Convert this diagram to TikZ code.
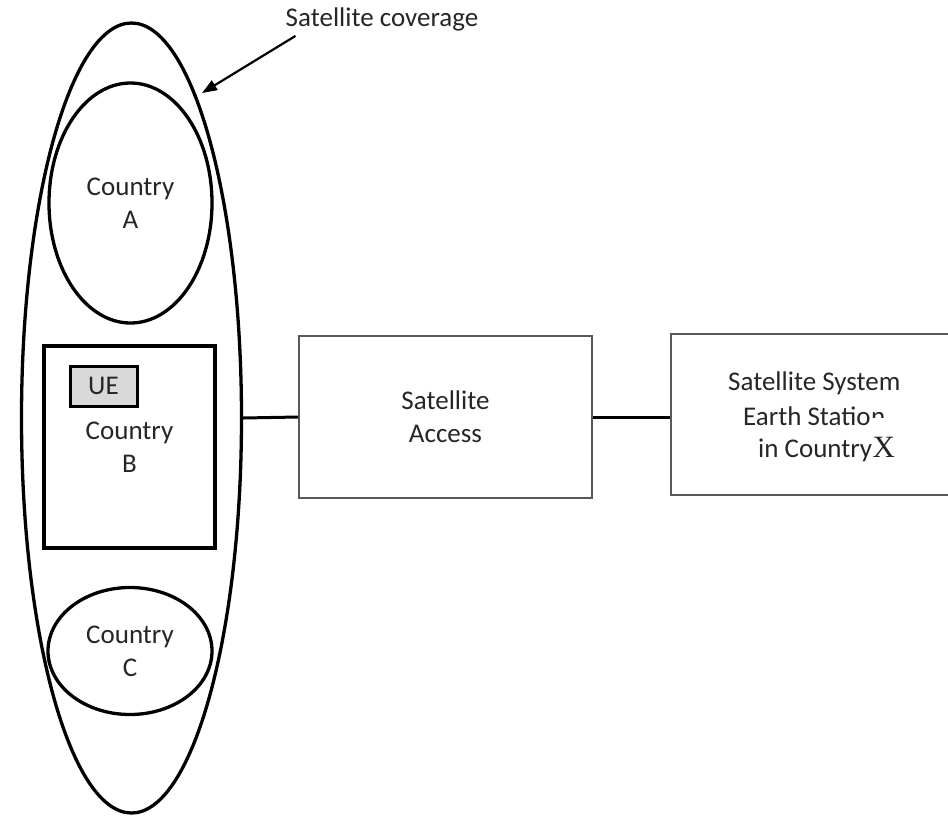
\documentclass[tikz,border=0pt]{standalone}
\usepackage{fontspec}
\setmainfont{Carlito}
\newfontfamily\serifx{Liberation Serif}
\usetikzlibrary{shapes.geometric,arrows.meta,calc}
\begin{document}
\begin{tikzpicture}[x=1pt,y=-1pt,
  lbl/.style={font=\fontsize{27}{33}\selectfont, text=black!85, align=center},
  region/.style={draw=black, line width=3.3pt, ellipse, inner sep=0pt, lbl},
  thickbox/.style={draw=black, line width=3.3pt, rectangle, inner sep=0pt, lbl},
  thinbox/.style={draw=black!65, line width=1.8pt, rectangle, inner sep=0pt, lbl},
  link/.style={draw=black, line width=3.0pt},
  plain/.style={font=\fontsize{27}{33}\selectfont, text=black!85, inner sep=0pt}
]
\clip (0,0) rectangle (948,815);
\fill[white] (0,0) rectangle (948,815);

% coverage footprint and the countries inside it
\node[region, minimum width=220, minimum height=790] (coverage) at (131.5,418) {};
\node[region, minimum width=163, minimum height=240] (ctryA) at (130.5,203) {Country\\A};
\node[thickbox, minimum width=171, minimum height=202] (ctryB) at (129.5,447) {Country\\B};
\node[region, minimum width=164, minimum height=127] (ctryC) at (130,651) {Country\\C};
\node[thickbox, fill=black!15, line width=3pt, minimum width=67, minimum height=40] (ue) at (103.5,386) {UE};

% ground segment
\node[thinbox, minimum width=293, minimum height=162] (access) at (445.5,417) {Satellite\\Access};
\node[thinbox, minimum width=320, minimum height=161, anchor=west] (earth) at (670,414.5) {};
\node[plain, anchor=base west] (es1) at (728,390) {Satellite System};
\node[plain, anchor=base west] (es2) at (743,425) {Earth Statio};
\begin{scope}
  \clip ($(es2.base east)+(0,-7.5)$) rectangle ($(es2.base east)+(16,-16)$);
  \node[plain, anchor=base west] (es2n) at (es2.base east) {n};
\end{scope}
\node[plain, anchor=base west] (es3) at (758,457) {in Country};
\node[plain, anchor=base west, font=\serifx\fontsize{31}{33}\selectfont] (esx) at (es3.base east) {X};

% connections
\draw[link] (coverage.east) -- (access.west);
\draw[link] (access.east) -- (access.east -| earth.west);

% caption with pointer
\node[plain] (cap) at (382,19) {Satellite coverage};
\draw[line width=2.2pt, -{Triangle[length=15pt,width=11pt]}] ($(cap.south west)+(10,5)$) -- (202,93);
\end{tikzpicture}
\end{document}
